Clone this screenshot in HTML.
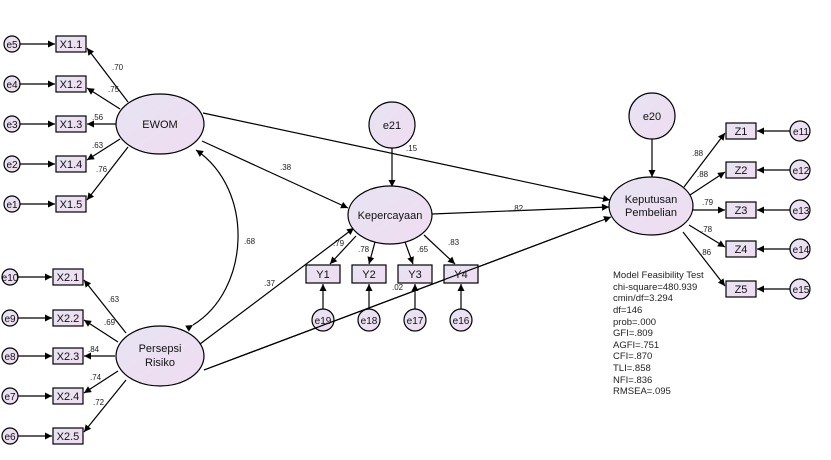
<!DOCTYPE html>
<html><head><meta charset="utf-8"><style>body{margin:0;background:#fff}svg{display:block}text{font-family:"Liberation Sans",sans-serif}</style></head><body>
<svg width="831" height="460" viewBox="0 0 831 460" xmlns="http://www.w3.org/2000/svg">
<defs>
<marker id="a" viewBox="0 0 10 10" refX="10" refY="5" markerWidth="9" markerHeight="7" orient="auto" markerUnits="userSpaceOnUse"><path d="M0,0L10,5L0,10z" fill="#000"/></marker>
<linearGradient id="g" x1="0" y1="0" x2="1" y2="1"><stop offset="0" stop-color="#e6e4f4"/><stop offset="1" stop-color="#f0dcf0"/></linearGradient>
</defs>
<g stroke="#000" stroke-width="1.2" fill="none" marker-end="url(#a)">
<line x1="128" y1="102" x2="87" y2="48"/>
<line x1="120" y1="109" x2="87" y2="88"/>
<line x1="116" y1="124" x2="87" y2="124"/>
<line x1="120" y1="139" x2="87" y2="160"/>
<line x1="128" y1="147" x2="87" y2="200"/>
<line x1="20" y1="44" x2="55" y2="44"/><line x1="20" y1="84" x2="55" y2="84"/><line x1="20" y1="124" x2="55" y2="124"/><line x1="20" y1="164" x2="55" y2="164"/><line x1="20" y1="204" x2="55" y2="204"/>
<line x1="126" y1="333" x2="84" y2="280"/>
<line x1="118" y1="342" x2="84" y2="320"/>
<line x1="115" y1="356" x2="84" y2="356"/>
<line x1="118" y1="371" x2="84" y2="393"/>
<line x1="126" y1="380" x2="84" y2="432"/>
<line x1="18" y1="277" x2="52" y2="277"/><line x1="18" y1="318" x2="52" y2="318"/><line x1="18" y1="356" x2="52" y2="356"/><line x1="18" y1="396" x2="52" y2="396"/><line x1="18" y1="436" x2="52" y2="436"/>
<line x1="202" y1="141" x2="348" y2="208"/>
<line x1="203" y1="113" x2="610" y2="200"/>
<line x1="200" y1="344" x2="354" y2="228"/>
<line x1="204" y1="370" x2="611" y2="217"/>
<line x1="432" y1="214" x2="609" y2="207"/>
<line x1="392" y1="148" x2="392" y2="187"/>
<line x1="652" y1="139" x2="652" y2="177"/>
<line x1="356" y1="236" x2="330" y2="264"/>
<line x1="375" y1="242" x2="369" y2="264"/>
<line x1="405" y1="242" x2="413" y2="264"/>
<line x1="424" y1="235" x2="455" y2="264"/>
<line x1="323" y1="309" x2="323" y2="284"/><line x1="369" y1="309" x2="369" y2="284"/><line x1="415" y1="309" x2="415" y2="284"/><line x1="461" y1="309" x2="461" y2="284"/>
<line x1="684" y1="187" x2="725" y2="133"/>
<line x1="690" y1="195" x2="725" y2="172"/>
<line x1="692" y1="210" x2="725" y2="210"/>
<line x1="689" y1="225" x2="725" y2="247"/>
<line x1="683" y1="232" x2="725" y2="286"/>
<line x1="790" y1="131" x2="757" y2="131"/><line x1="790" y1="170" x2="757" y2="170"/><line x1="790" y1="210" x2="757" y2="210"/><line x1="790" y1="249" x2="757" y2="249"/><line x1="790" y1="289" x2="757" y2="289"/>
</g>
<path d="M193,325 C250,290 255,190 196,150" stroke="#000" stroke-width="1.2" fill="none" marker-end="url(#a)" marker-start="url(#a)"/>
<g stroke="#000" stroke-width="1.2" fill="url(#g)">
<ellipse cx="160" cy="124" rx="44" ry="30"/>
<ellipse cx="160" cy="356" rx="44" ry="30"/>
<ellipse cx="390" cy="215" rx="42" ry="29"/>
<ellipse cx="651" cy="206" rx="42" ry="29"/>
<circle cx="392" cy="125" r="23"/>
<circle cx="652" cy="116" r="23"/>
<rect x="56" y="36" width="30" height="16"/><rect x="56" y="76" width="30" height="16"/><rect x="56" y="116" width="30" height="16"/><rect x="56" y="156" width="30" height="16"/><rect x="56" y="196" width="30" height="16"/>
<rect x="53" y="269" width="30" height="16"/><rect x="53" y="310" width="30" height="16"/><rect x="53" y="348" width="30" height="16"/><rect x="53" y="388" width="30" height="16"/><rect x="53" y="428" width="30" height="16"/>
<rect x="306" y="265" width="34" height="18"/><rect x="352" y="265" width="34" height="18"/><rect x="398" y="265" width="34" height="18"/><rect x="444" y="265" width="34" height="18"/>
<rect x="726" y="123" width="30" height="16"/><rect x="726" y="162" width="30" height="16"/><rect x="726" y="202" width="30" height="16"/><rect x="726" y="241" width="30" height="16"/><rect x="726" y="281" width="30" height="16"/>
<circle cx="12" cy="44" r="8"/><circle cx="12" cy="84" r="8"/><circle cx="12" cy="124" r="8"/><circle cx="12" cy="164" r="8"/><circle cx="12" cy="204" r="8"/>
<circle cx="10" cy="277" r="8"/><circle cx="10" cy="318" r="8"/><circle cx="10" cy="356" r="8"/><circle cx="10" cy="396" r="8"/><circle cx="10" cy="436" r="8"/>
<circle cx="323" cy="320" r="11"/><circle cx="369" cy="320" r="11"/><circle cx="415" cy="320" r="11"/><circle cx="461" cy="320" r="11"/>
<circle cx="800" cy="131" r="10"/><circle cx="800" cy="170" r="10"/><circle cx="800" cy="210" r="10"/><circle cx="800" cy="249" r="10"/><circle cx="800" cy="289" r="10"/>
</g>
<line x1="204" y1="370" x2="600" y2="221" stroke="#000" stroke-width="1.2"/>
<g font-size="11" text-anchor="middle" fill="#111">
<text x="160" y="128">EWOM</text>
<text x="160" y="352">Persepsi</text><text x="160" y="366">Risiko</text>
<text x="390" y="219">Kepercayaan</text>
<text x="651" y="203">Keputusan</text><text x="651" y="216">Pembelian</text>
<text x="392" y="129">e21</text><text x="652" y="120">e20</text>
<text x="71" y="48">X1.1</text><text x="71" y="88">X1.2</text><text x="71" y="128">X1.3</text><text x="71" y="168">X1.4</text><text x="71" y="208">X1.5</text>
<text x="68" y="281">X2.1</text><text x="68" y="322">X2.2</text><text x="68" y="360">X2.3</text><text x="68" y="400">X2.4</text><text x="68" y="440">X2.5</text>
<text x="323" y="278">Y1</text><text x="369" y="278">Y2</text><text x="415" y="278">Y3</text><text x="461" y="278">Y4</text>
<text x="741" y="135">Z1</text><text x="741" y="174">Z2</text><text x="741" y="214">Z3</text><text x="741" y="253">Z4</text><text x="741" y="293">Z5</text>
</g>
<g font-size="10" text-anchor="middle" fill="#111">
<text x="12" y="48">e5</text><text x="12" y="88">e4</text><text x="12" y="128">e3</text><text x="12" y="168">e2</text><text x="12" y="208">e1</text>
<text x="10" y="281">e10</text><text x="10" y="322">e9</text><text x="10" y="360">e8</text><text x="10" y="400">e7</text><text x="10" y="440">e6</text>
<text x="323" y="324">e19</text><text x="369" y="324">e18</text><text x="415" y="324">e17</text><text x="461" y="324">e16</text>
<text x="801" y="135">e11</text><text x="801" y="174">e12</text><text x="801" y="214">e13</text><text x="801" y="253">e14</text><text x="801" y="293">e15</text>
</g>
<g font-size="8" fill="#222">
<text x="112" y="70">.70</text><text x="108" y="92">.75</text><text x="92" y="120">.56</text><text x="92" y="148">.63</text><text x="96" y="172">.76</text>
<text x="108" y="302">.63</text><text x="104" y="325">.69</text><text x="88" y="352">.84</text><text x="90" y="380">.74</text><text x="93" y="405">.72</text>
<text x="244" y="244">.68</text><text x="264" y="286">.37</text><text x="280" y="170">.38</text><text x="406" y="151">.15</text><text x="512" y="211">.82</text>
<text x="333" y="246">.79</text><text x="358" y="252">.78</text><text x="417" y="252">.65</text><text x="448" y="245">.83</text><text x="392" y="290">.02</text>
<text x="692" y="156">.88</text><text x="697" y="177">.88</text><text x="702" y="205">.79</text><text x="701" y="232">.78</text><text x="700" y="255">.86</text>
</g>
<g font-size="9.5" fill="#222">
<text x="613" y="278">Model Feasibility Test</text>
<text x="613" y="290">chi-square=480.939</text>
<text x="613" y="301">cmin/df=3.294</text>
<text x="613" y="313">df=146</text>
<text x="613" y="325">prob=.000</text>
<text x="613" y="336">GFI=.809</text>
<text x="613" y="348">AGFI=.751</text>
<text x="613" y="359">CFI=.870</text>
<text x="613" y="371">TLI=.858</text>
<text x="613" y="383">NFI=.836</text>
<text x="613" y="394">RMSEA=.095</text>
</g>
</svg>
</body></html>
